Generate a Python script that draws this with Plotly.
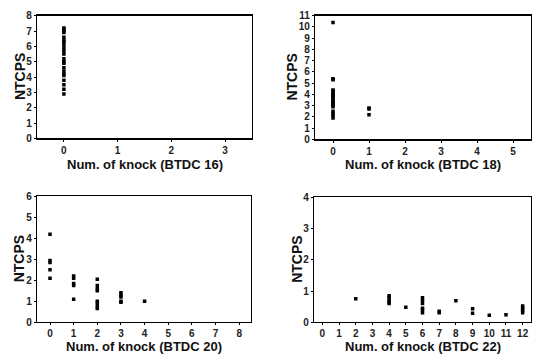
import plotly.graph_objects as go

# BTDC 16
x16 = [0]*22
y16 = [7.2, 7.1, 7.0, 6.9, 6.6, 6.4, 6.3, 6.1, 5.9, 5.7, 5.5, 5.2, 5.0, 4.9, 4.6, 4.4, 4.2, 4.1, 3.8, 3.5, 3.2, 2.9]
# BTDC 18
x18 = [0]*21 + [1, 1, 1]
y18 = [10.4, 5.4, 5.3, 4.4, 4.3, 4.2, 4.0, 3.9, 3.8, 3.7, 3.5, 3.4, 3.3, 3.2, 3.1, 3.0, 2.9, 2.5, 2.3, 2.1, 1.9,
       2.8, 2.7, 2.2]
# BTDC 20
x20 = [0, 0, 0, 0, 0, 1, 1, 1, 1, 1, 2, 2, 2, 2, 2, 2, 2, 2, 3, 3, 3, 3, 3, 4]
y20 = [4.2, 2.95, 2.85, 2.5, 2.1, 2.2, 2.1, 1.85, 1.75, 1.1,
       2.05, 1.75, 1.6, 1.5, 1.0, 0.9, 0.75, 0.65,
       1.4, 1.3, 1.2, 1.0, 0.95, 1.0]
# BTDC 22
x22 = [2, 4, 4, 4, 4, 4, 5, 6, 6, 6, 6, 6, 6, 7, 7, 8, 9, 9, 10, 11, 12, 12, 12, 12]
y22 = [0.75, 0.85, 0.8, 0.7, 0.65, 0.6, 0.48, 0.78, 0.7, 0.6, 0.45, 0.4, 0.3, 0.35, 0.3, 0.69,
       0.43, 0.29, 0.22, 0.24, 0.52, 0.45, 0.38, 0.3]

panels = [
    dict(x=x16, y=y16, xr=[-0.5, 3.5], yr=[0, 8], xt=list(range(0, 4)), yt=list(range(0, 9)),
         title="Num. of knock (BTDC 16)"),
    dict(x=x18, y=y18, xr=[-0.5, 5.5], yr=[0, 11], xt=list(range(0, 6)), yt=list(range(0, 12)),
         title="Num. of knock (BTDC 18)"),
    dict(x=x20, y=y20, xr=[-0.55, 8.5], yr=[0, 6], xt=list(range(0, 9)), yt=list(range(0, 7)),
         title="Num. of knock (BTDC 20)"),
    dict(x=x22, y=y22, xr=[-0.5, 12.5], yr=[0, 4], xt=list(range(0, 13)), yt=list(range(0, 5)),
         title="Num. of knock (BTDC 22)"),
]

W, H = 535, 363
# pixel boxes (left, right, top, bottom)
boxes = [(37, 252, 10, 137), (315, 531, 10, 138), (37, 251, 197, 327), (314, 531, 198, 327)]
ytitle_x = [20, 292, 19, 297]
xtitle_y = [164, 164, 352, 352]

fig = go.Figure()
font = "Liberation Sans, Arial, sans-serif"
annotations = []
for i, (p, b) in enumerate(zip(panels, boxes)):
    n = "" if i == 0 else str(i + 1)
    fig.add_trace(go.Scatter(x=p["x"], y=p["y"], mode="markers",
                             marker=dict(symbol="square", size=3.5, color="black"),
                             xaxis="x" + n, yaxis="y" + n, showlegend=False, hoverinfo="skip"))
    l, r, t, bt = b
    common = dict(showgrid=False, zeroline=False, showline=True, linecolor="black", linewidth=1.2,
                  mirror=True, ticks="outside", ticklen=2, tickcolor="black",
                  tickfont=dict(family=font, size=10, color="#222", weight="bold"))
    fig.update_layout(**{
        "xaxis" + n: dict(domain=[l / W, r / W], range=p["xr"], tickvals=p["xt"],
                          anchor="y" + n, **common),
        "yaxis" + n: dict(domain=[1 - bt / H, 1 - t / H], range=p["yr"], tickvals=p["yt"],
                          anchor="x" + n, **common),
    })
    annotations.append(dict(text=p["title"], x=(l + r) / 2 / W, y=1 - xtitle_y[i] / H,
                            xref="paper", yref="paper", showarrow=False, xanchor="center",
                            yanchor="middle",
                            font=dict(family=font, size=13, color="#111", weight="bold")))
    annotations.append(dict(text="NTCPS", x=ytitle_x[i] / W, y=1 - (t + bt) / 2 / H,
                            xref="paper", yref="paper", showarrow=False, textangle=-90,
                            xanchor="center", yanchor="middle",
                            font=dict(family=font, size=14, color="#111", weight="bold")))

fig.update_layout(width=W, height=H, margin=dict(l=0, r=0, t=0, b=0),
                  paper_bgcolor="white", plot_bgcolor="white", annotations=annotations)
fig.write_html("out.html", config={"displayModeBar": False, "staticPlot": True},
               post_script="document.body.style.margin='0';document.body.style.overflow='hidden';")
